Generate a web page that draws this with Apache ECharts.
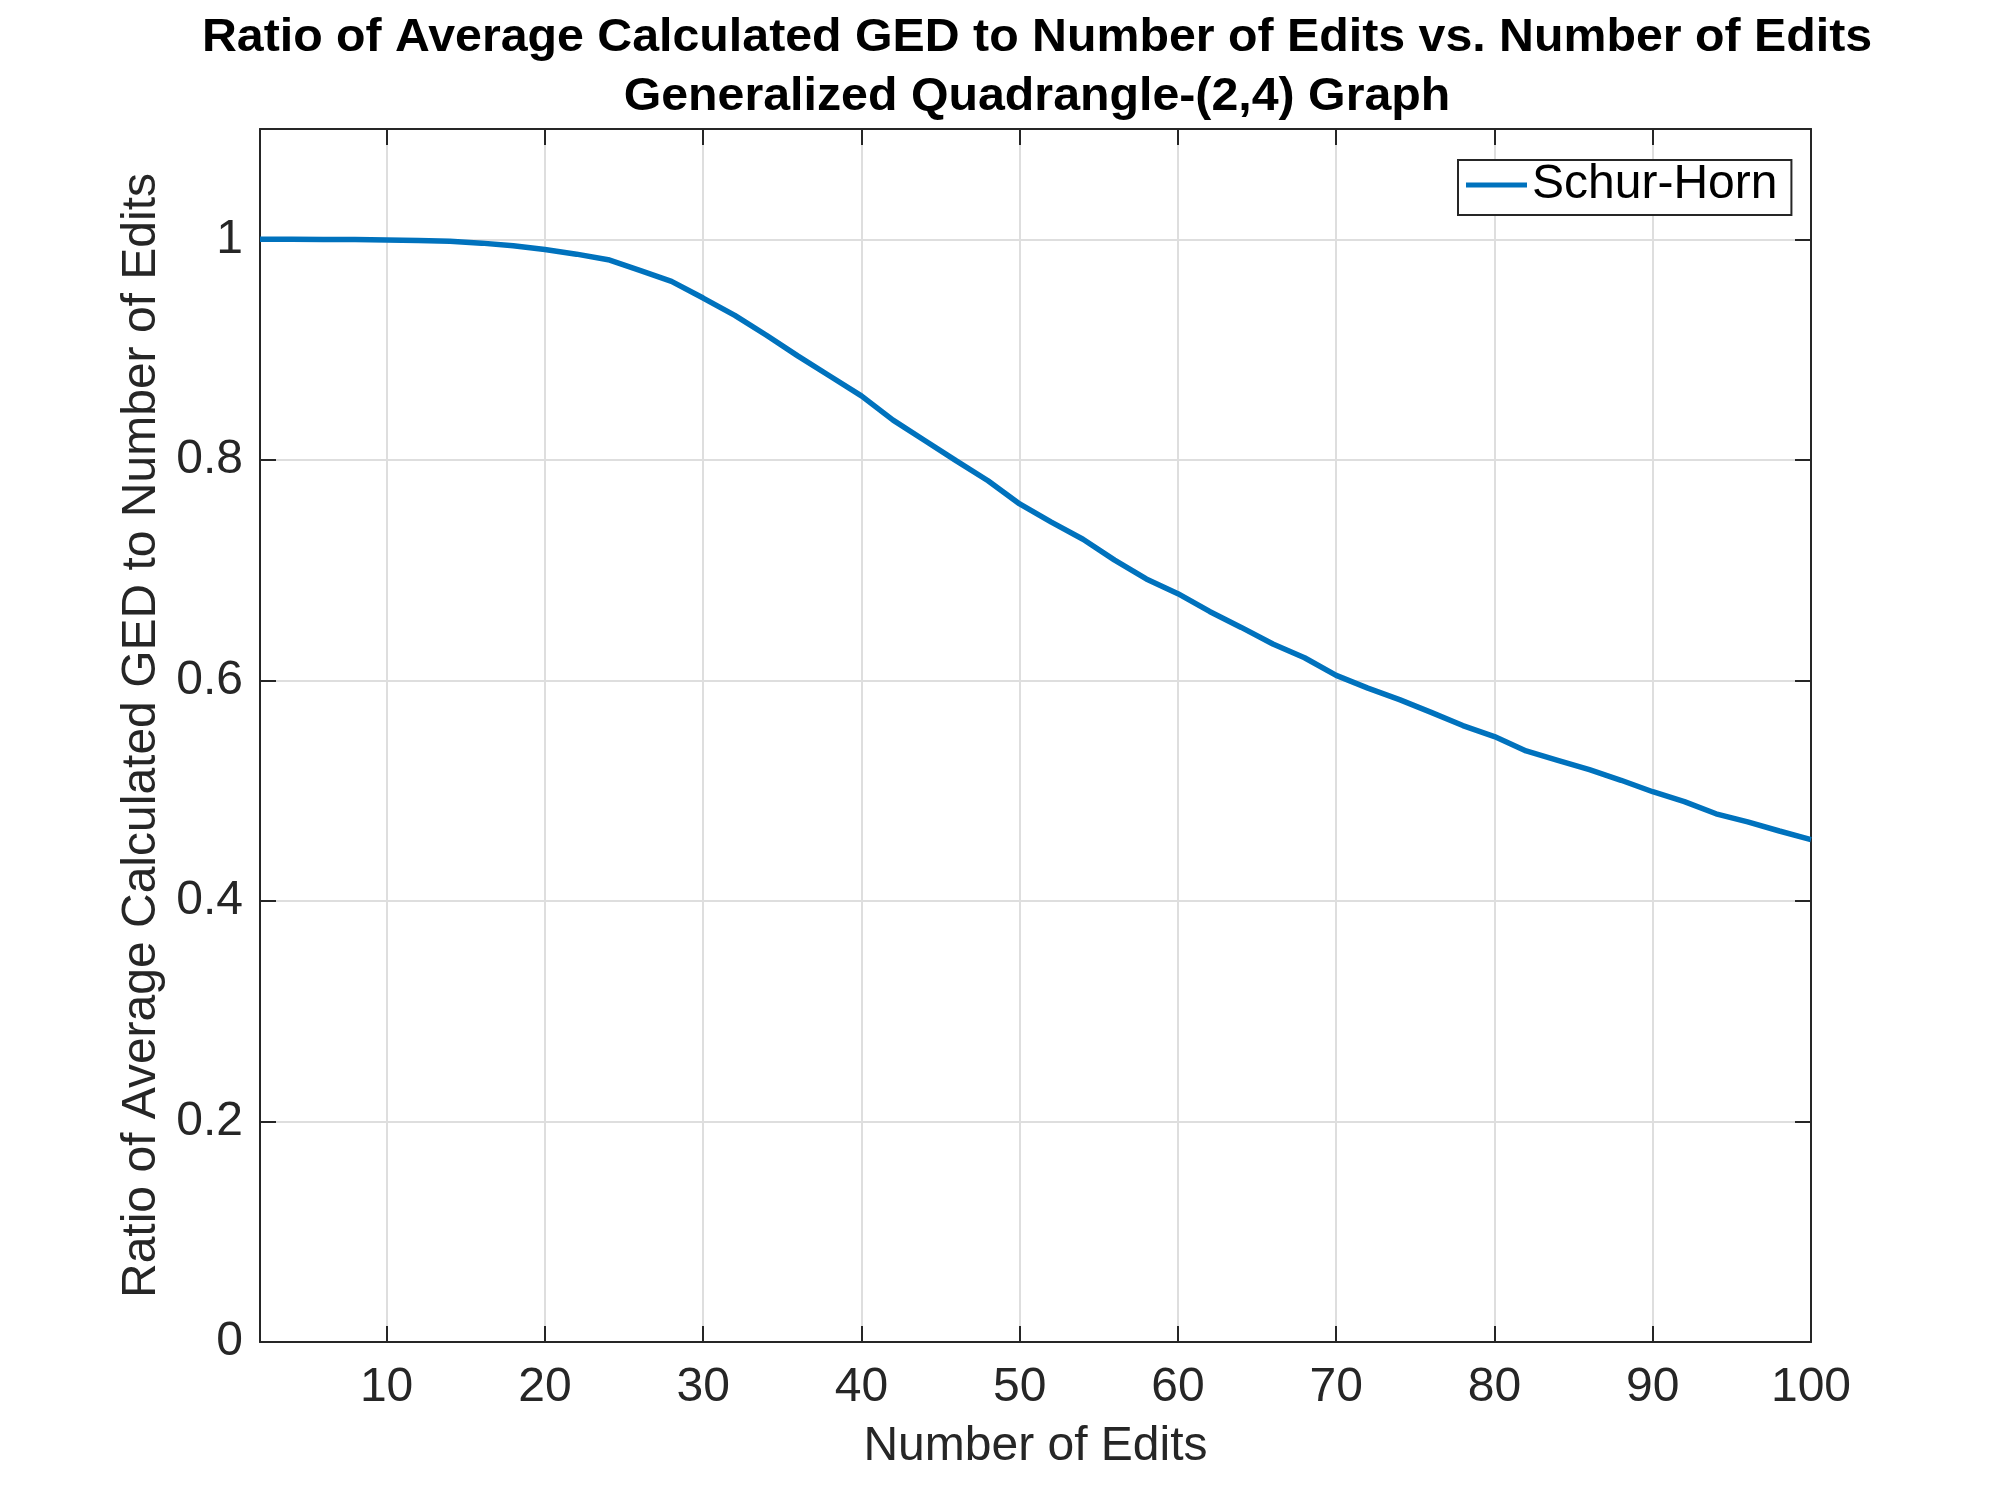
<!DOCTYPE html>
<html>
<head>
<meta charset="utf-8">
<title>Ratio of Average Calculated GED to Number of Edits</title>
<script src="https://cdn.jsdelivr.net/npm/echarts@6/dist/echarts.min.js"></script>
<style>
  html, body { margin: 0; padding: 0; background: #fff; }
  #chart { width: 2000px; height: 1508px; }
</style>
</head>
<body>
<div id="chart"></div>
<script>
// Schur-Horn ratio (edits 2..100, step 2)
const edits = [2, 4, 6, 8, 10, 12, 14, 16, 18, 20, 22, 24, 26, 28, 30, 32, 34, 36, 38, 40,
    42, 44, 46, 48, 50, 52, 54, 56, 58, 60, 62, 64, 66, 68, 70, 72, 74, 76, 78, 80,
    82, 84, 86, 88, 90, 92, 94, 96, 98, 100];
const schurHorn = [1.0000, 1.0000, 0.9999, 0.9997, 0.9993, 0.9988, 0.9981, 0.9965, 0.9942, 0.9907,
    0.9865, 0.9815, 0.9718, 0.9618, 0.9467, 0.9310, 0.9130, 0.8940, 0.8760, 0.8580,
    0.8360, 0.8175, 0.7990, 0.7810, 0.7600, 0.7435, 0.7280, 0.7090, 0.6920, 0.6786,
    0.6625, 0.6480, 0.6330, 0.6205, 0.6045, 0.5930, 0.5825, 0.5710, 0.5590, 0.5490,
    0.5360, 0.5275, 0.5190, 0.5094, 0.4990, 0.4900, 0.4790, 0.4716, 0.4634, 0.4556];

const xTicks = [10, 20, 30, 40, 50, 60, 70, 80, 90, 100];
const yTicks = [0, 0.2, 0.4, 0.6, 0.8, 1];
const titleLines = [
    'Ratio of Average Calculated GED to Number of Edits vs. Number of Edits',
    'Generalized Quadrangle-(2,4) Graph'
];

const FONT = '"Liberation Sans", Arial, Helvetica, sans-serif';
const INK = '#262626';
const GRID = '#dedede';

const chart = echarts.init(document.getElementById('chart'), null, { renderer: 'canvas' });

// MATLAB-style box: inner ticks on all four sides
function boxAxis(extra, ticks) {
    return Object.assign({
        type: 'value',
        axisLine: { show: true, onZero: false, lineStyle: { color: INK, width: 2 } },
        axisTick: { show: true, inside: true, length: 16, customValues: ticks, lineStyle: { color: INK, width: 2 } },
        axisLabel: { show: false },
        splitLine: { show: false },
    }, extra);
}

chart.setOption({
    backgroundColor: '#ffffff',
    animation: false,
    graphic: titleLines.map((t, i) => ({
        type: 'text',
        x: 1037, y: i === 0 ? 38 : 97,
        scaleX: 1.05,
        style: {
            text: t, fill: '#000', align: 'center', verticalAlign: 'middle',
            font: 'bold 46px ' + FONT,
        },
    })),
    grid: { left: 260, right: 189, top: 129, bottom: 166, containLabel: false },
    legend: {
        left: 1458, top: 160,
        padding: [1, 14, 6, 8],
        borderColor: INK, borderWidth: 2, borderRadius: 0,
        backgroundColor: '#fff',
        icon: 'rect',
        itemWidth: 61, itemHeight: 5,
        textStyle: { fontSize: 48, lineHeight: 44, color: '#000', fontFamily: FONT },
        data: ['Schur-Horn'],
    },
    xAxis: [
        boxAxis({
            position: 'bottom', min: 2, max: 100,
            axisLabel: { show: true, customValues: xTicks, fontSize: 48, color: INK, fontFamily: FONT, margin: 22 },
            splitLine: { show: true, lineStyle: { color: GRID, width: 2 } },
            name: 'Number of Edits', nameLocation: 'middle', nameGap: 81,
            nameTextStyle: { fontSize: 48, color: INK, fontFamily: FONT },
        }, xTicks),
        boxAxis({ position: 'top', min: 2, max: 100 }, xTicks),
    ],
    yAxis: [
        boxAxis({
            position: 'left', min: 0, max: 1.1,
            axisLabel: { show: true, customValues: yTicks, fontSize: 48, color: INK, fontFamily: FONT, margin: 17 },
            splitLine: { show: true, lineStyle: { color: GRID, width: 2 } },
            name: 'Ratio of Average Calculated GED to Number of Edits', nameLocation: 'middle', nameGap: 86,
            nameTextStyle: { fontSize: 48, color: INK, fontFamily: FONT },
        }, yTicks),
        boxAxis({ position: 'right', min: 0, max: 1.1 }, yTicks),
    ],
    series: [{
        name: 'Schur-Horn', type: 'line',
        xAxisIndex: 0, yAxisIndex: 0,
        symbol: 'none', smooth: false,
        lineStyle: { color: '#0072BD', width: 5.5 },
        itemStyle: { color: '#0072BD' },
        data: edits.map((e, i) => [e, schurHorn[i]]),
        z: 5,
    }],
});
</script>
</body>
</html>
